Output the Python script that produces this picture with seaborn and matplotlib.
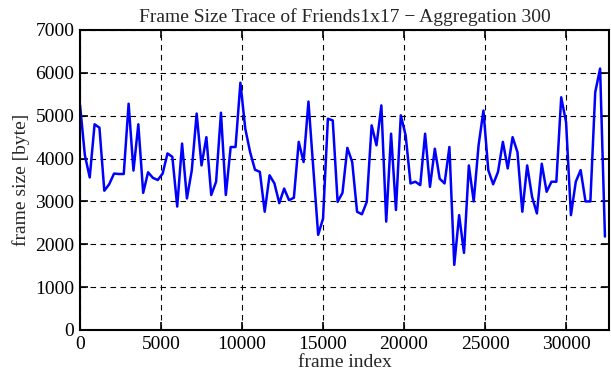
import matplotlib
matplotlib.use("Agg")
import matplotlib.pyplot as plt
import numpy as np
import pandas as pd
import seaborn as sns

AGGREGATION = 300

# mean frame size per aggregation window [byte]
frame_size = [
    5250, 4080, 3560, 4800, 4720, 3250, 3400, 3650, 3640, 3640,
    5280, 3720, 4800, 3200, 3680, 3550, 3500, 3650, 4120, 4040,
    2880, 4350, 3070, 3730, 5050, 3840, 4500, 3150, 3460, 5070,
    3150, 4270, 4270, 5770, 4700, 4150, 3740, 3690, 2760, 3610,
    3420, 2960, 3300, 3030, 3085, 4390, 3920, 5330, 3770, 2220,
    2600, 4930, 4890, 2990, 3200, 4250, 3920, 2760, 2700, 2990,
    4775, 4310, 5240, 2530, 4580, 2800, 5010, 4540, 3420, 3460,
    3380, 4580, 3340, 4230, 3530, 3420, 4270, 1520, 2680, 1800,
    3840, 3000, 4310, 5120, 3730, 3400, 3690, 4390, 3770, 4500,
    4150, 2760, 3840, 3110, 2720, 3880, 3225, 3460, 3460, 5430,
    4850, 2680, 3460, 3730, 3000, 3000, 5550, 6100, 2180,
]
frame_index = np.arange(len(frame_size)) * AGGREGATION

x_ticks = [0, 5000, 10000, 15000, 20000, 25000, 30000]
y_ticks = [0, 1000, 2000, 3000, 4000, 5000, 6000, 7000]

sns.set_style("ticks")
plt.rcParams["font.family"] = ["Liberation Serif", "DejaVu Serif"]

df = pd.DataFrame({"frame index": frame_index, "frame size [byte]": frame_size})

fig = plt.figure(figsize=(6.11, 3.80), dpi=100)
ax = fig.add_axes([80 / 611, 50 / 380, 529 / 611, 300 / 380])

sns.lineplot(data=df, x="frame index", y="frame size [byte]", ax=ax,
             color="#0000ff", linewidth=1.8)

ax.set_xlim(0, 32650)
ax.set_ylim(0, 7000)
ax.set_xticks(x_ticks)
ax.set_yticks(y_ticks)
ax.grid(True, color="black", linestyle=(0, (5, 4)), linewidth=0.8)
ax.tick_params(direction="in", length=6, width=1.2, top=True, right=True,
               labelsize=14, colors="black", pad=4)
for s in ax.spines.values():
    s.set_linewidth(1.5)
    s.set_color("black")

ax.set_xlabel("frame index", fontsize=14, labelpad=1)
ax.set_ylabel("frame size [byte]", fontsize=14, labelpad=4)
ax.set_title("Frame Size Trace of Friends1x17 \u2212 Aggregation 300", fontsize=14, pad=6)

fig.savefig("out.png", dpi=100)
